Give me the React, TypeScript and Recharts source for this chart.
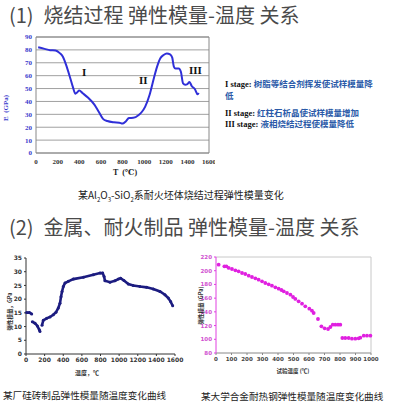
import React from 'react';
import {
  LineChart,
  Line,
  XAxis,
  YAxis,
  CartesianGrid,
  ReferenceLine,
  ScatterChart,
  Scatter,
} from 'recharts';

// ---------- (1) sintering chart ----------
const sinterTemp = [20, 80, 130, 180, 220, 250, 280, 310, 340, 365, 380, 400, 430, 480, 540, 580, 620, 660, 720, 770, 800, 830, 860, 900, 950, 980, 1010, 1050, 1090, 1120, 1150, 1180, 1210, 1240, 1260, 1275, 1290, 1320, 1340, 1360, 1380, 1400, 1420, 1440, 1470, 1495, 1505];
const sinterModulus = [82, 80.8, 79.8, 79.6, 77.5, 74.5, 68, 60, 51.5, 46, 47, 48.5, 46.5, 43, 37.5, 32, 26.5, 24.8, 23.8, 23.5, 22.8, 24.5, 27.2, 27.3, 29.5, 32, 36, 45, 58, 67, 73.5, 76, 77.2, 76.5, 74, 67, 65.5, 65.5, 63, 54, 53, 53.5, 55, 52, 49.5, 45.5, 46.5];
const sinterXTicks = [0, 200, 400, 600, 800, 1000, 1200, 1400, 1600];
const sinterYTicks = [0, 10, 20, 30, 40, 50, 60, 70, 80, 90];
const stageMarks = ['I', 'II', 'III'];
const stageNotes = [
  ['I stage: ', '树脂等结合剂挥发使试样模量降'],
  ['', '低'],
  ['II stage: ', '红柱石析晶使试样模量增加'],
  ['III stage: ', '液相烧结过程使模量降低'],
];

// ---------- (2a) silica brick ----------
const silicaTemp = [7, 36, 61, 64, 68, 97, 122, 143, 150, 160, 172, 186, 222, 258, 293, 322, 347, 365, 376, 387, 401, 419, 455, 508, 616, 723, 795, 823, 838, 848, 902, 956, 991, 1016, 1052, 1099, 1152, 1224, 1296, 1367, 1439, 1492, 1528, 1553, 1575];
const silicaModulus: (number | null)[] = [15.1, 15.1, 14.6, null, 11.8, 11.2, 10.2, 8.8, 8.2, null, 10.5, 12.3, 13.0, 13.5, 14.3, 15.2, 16.8, 18.5, 20.9, 22.8, 24.6, 25.9, 26.5, 27.3, 28.0, 28.9, 29.5, 29.5, 28.3, 26.7, 26.2, 26.7, 27.3, 27.6, 26.8, 25.5, 25.0, 24.6, 24.3, 23.7, 22.8, 21.6, 20.4, 19.1, 17.6];
const silicaXTicks = [0, 200, 400, 600, 800, 1000, 1200, 1400, 1600];
const silicaYTicks = [0, 5, 10, 15, 20, 25, 30, 35];

// ---------- (2b) heat resistant steel ----------
const steelTemp = [17, 54, 67, 82, 103, 125, 146, 168, 189, 211, 232, 254, 275, 297, 318, 340, 361, 383, 404, 422, 437, 458, 480, 497, 512, 533, 555, 576, 602, 619, 630, 658, 680, 701, 723, 738, 753, 770, 787, 802, 815, 834, 856, 877, 899, 920, 931, 953, 974, 996];
const steelModulus = [208.8, 206.4, 206.4, 204, 202.5, 200.6, 199.1, 196.7, 195.2, 192.8, 190.8, 188.9, 187, 184.5, 182.1, 180.1, 178.2, 175.8, 173.8, 171.9, 169.9, 167.5, 165.1, 161.7, 158.8, 155.4, 152, 148.1, 144.7, 141.7, 138.3, 129.6, 118.9, 116, 115, 117.9, 121.3, 121.3, 121.3, 121.3, 101.9, 101.9, 101.9, 100.9, 100.9, 101.4, 102.4, 105.3, 105.3, 105.3];
const steelXTicks = [0, 100, 200, 300, 400, 500, 600, 700, 800, 900, 1000];
const steelYTicks = [80, 100, 120, 140, 160, 180, 200, 220];

const sinterData = sinterTemp.map((t, i) => ({ t, e: sinterModulus[i] }));
const silicaData = silicaTemp.map((t, i) => ({ t, e: silicaModulus[i] }));
const steelData = steelTemp.map((t, i) => ({ t, e: steelModulus[i] }));

const CJK = '"Noto Sans CJK SC", "Noto Sans", sans-serif';
const SERIF = '"Liberation Serif", "DejaVu Serif", serif';

const abs = (left: number, top: number, extra: React.CSSProperties = {}): React.CSSProperties => ({
  position: 'absolute',
  left,
  top,
  whiteSpace: 'pre',
  ...extra,
});

export default function App() {
  return (
    <div
      style={{
        position: 'absolute',
        left: 0,
        top: 0,
        width: 398,
        height: 412,
        background: '#fff',
        overflow: 'hidden',
        fontFamily: CJK,
      }}
    >
      {/* Title 1 */}
      <div style={abs(9, 2, { fontSize: 20, lineHeight: '26px', color: '#4a4a4a' })}>
        {'(1)\u2002烧结过程 弹性模量-温度 关系'}
      </div>

      {/* Chart 1 */}
      <div style={abs(0, 30)}>
        <LineChart width={215} height={150} data={sinterData} margin={{ top: 7, right: 6, bottom: 7, left: 6 }}>
          <CartesianGrid horizontal vertical={false} stroke="#a0a0a0" strokeWidth={1} />
          <XAxis
            dataKey="t"
            type="number"
            domain={[0, 1600]}
            ticks={sinterXTicks}
            height={20}
            tickLine={false}
            tickSize={4}
            axisLine={{ stroke: '#888' }}
            tick={{ fontSize: 7, fontFamily: SERIF, fontWeight: 700, fill: '#333' }}
            interval={0}
          />
          <YAxis
            type="number"
            domain={[0, 90]}
            ticks={sinterYTicks}
            width={30}
            tickLine={false}
            tickSize={2}
            axisLine={{ stroke: '#888' }}
            tick={{ fontSize: 7, fontFamily: SERIF, fontWeight: 700, fill: '#3a3acc' }}
            interval={0}
          />
          <ReferenceLine x={1600} stroke="#888" />
          <ReferenceLine y={90} stroke="#888" />
          <Line
            dataKey="e"
            type="monotone"
            stroke="#2f2fd8"
            strokeWidth={2}
            dot={false}
            isAnimationActive={false}
          />
        </LineChart>
      </div>
      <div
        style={abs(-14, 104, {
          fontSize: 7,
          lineHeight: '8px',
          fontFamily: SERIF,
          fontWeight: 700,
          color: '#3a3acc',
          transform: 'rotate(-90deg)',
          width: 40,
          textAlign: 'center',
        })}
      >
        {'E  (GPa)'}
      </div>
      <div style={abs(105, 168, { fontSize: 8, lineHeight: '10px', fontFamily: SERIF, fontWeight: 700, color: '#222', width: 40, textAlign: 'center' })}>
        {'T  (℃)'}
      </div>
      <div style={abs(82, 66, { fontSize: 11, lineHeight: '12px', fontFamily: SERIF, fontWeight: 700, color: '#111' })}>{stageMarks[0]}</div>
      <div style={abs(139, 74, { fontSize: 11, lineHeight: '12px', fontFamily: SERIF, fontWeight: 700, color: '#111' })}>{stageMarks[1]}</div>
      <div style={abs(189, 64, { fontSize: 11, lineHeight: '12px', fontFamily: SERIF, fontWeight: 700, color: '#111' })}>{stageMarks[2]}</div>

      {/* stage notes */}
      {stageNotes.map((n, i) => (
        <div
          key={i}
          style={abs(225, [78, 90, 107, 118][i], {
            fontSize: 8.5,
            lineHeight: '10px',
            fontWeight: 700,
          })}
        >
          <span style={{ fontFamily: SERIF, color: '#111' }}>{n[0]}</span>
          <span style={{ color: '#2a5aa8' }}>{n[1]}</span>
        </div>
      ))}

      {/* caption 1 */}
      <div style={abs(78, 188, { fontSize: 10, lineHeight: '14px', color: '#222' })}>
        某Al<sub style={{ fontSize: 6 }}>2</sub>O<sub style={{ fontSize: 6 }}>3</sub>-SiO<sub style={{ fontSize: 6 }}>2</sub>系耐火坯体烧结过程弹性模量变化
      </div>

      {/* Title 2 */}
      <div style={abs(9, 214, { fontSize: 20, lineHeight: '26px', color: '#4a4a4a' })}>
        {'(2)\u2002金属、耐火制品 弹性模量-温度 关系'}
      </div>

      {/* Chart 2a */}
      <div style={abs(0, 250)}>
        <LineChart width={190} height={130} data={silicaData} margin={{ top: 8, right: 15, bottom: 8, left: 2 }}>
          <XAxis
            dataKey="t"
            type="number"
            domain={[0, 1600]}
            ticks={silicaXTicks}
            height={18}
            tickSize={2}
            tickLine={{ stroke: '#333' }}
            axisLine={{ stroke: '#333' }}
            tick={{ fontSize: 6, fontWeight: 700, fill: '#333', fontFamily: '"DejaVu Sans", sans-serif' }}
            interval={0}
          />
          <YAxis
            type="number"
            domain={[0, 35]}
            ticks={silicaYTicks}
            width={24}
            tickSize={2}
            tickLine={{ stroke: '#333' }}
            axisLine={{ stroke: '#333' }}
            tick={{ fontSize: 6, fontWeight: 700, fill: '#333', fontFamily: '"DejaVu Sans", sans-serif' }}
            interval={0}
          />
          <Line
            dataKey="e"
            type="linear"
            stroke="#1c1c80"
            strokeWidth={2.6}
            dot={{ r: 1.5, fill: '#1c1c80', stroke: 'none' }}
            connectNulls={false}
            isAnimationActive={false}
          />
        </LineChart>
      </div>
      <div
        style={abs(-12, 308, {
          fontSize: 5.5,
          lineHeight: '7px',
          fontWeight: 700,
          color: '#333',
          transform: 'rotate(-90deg)',
          width: 44,
          textAlign: 'center',
        })}
      >
        {'弹性模量，GPa'}
      </div>
      <div style={abs(67, 369, { fontSize: 6, lineHeight: '8px', fontWeight: 700, color: '#333', width: 40, textAlign: 'center' })}>
        {'温度，℃'}
      </div>
      <div style={abs(3, 389, { fontSize: 9.6, lineHeight: '13px', color: '#222' })}>
        某厂硅砖制品弹性模量随温度变化曲线
      </div>

      {/* Chart 2b */}
      <div style={abs(195, 250)}>
        <ScatterChart width={190} height={130} margin={{ top: 7, right: 14, bottom: 9, left: 3 }}>
          <XAxis
            dataKey="t"
            type="number"
            domain={[0, 1000]}
            ticks={steelXTicks}
            height={18}
            tickSize={2}
            tickLine={{ stroke: '#888' }}
            axisLine={{ stroke: '#888' }}
            tick={{ fontSize: 5.5, fontWeight: 700, fill: '#444', fontFamily: '"DejaVu Sans", sans-serif' }}
            interval={0}
          />
          <YAxis
            dataKey="e"
            type="number"
            domain={[80, 220]}
            ticks={steelYTicks}
            width={18}
            tickSize={2}
            tickLine={{ stroke: '#e040e0' }}
            axisLine={{ stroke: '#e040e0' }}
            tick={{ fontSize: 5.5, fontWeight: 700, fill: '#d050d0', fontFamily: '"DejaVu Sans", sans-serif' }}
            interval={0}
          />
          <ReferenceLine y={220} stroke="#c8c8c8" />
          <ReferenceLine x={1000} stroke="#c8c8c8" />
          <Scatter
            data={steelData}
            fill="#e020e0"
            isAnimationActive={false}
            shape={(p: any) => <circle cx={p.cx} cy={p.cy} r={1.9} fill="#e020e0" />}
          />
        </ScatterChart>
      </div>
      <div
        style={abs(179, 302, {
          fontSize: 5.5,
          lineHeight: '7px',
          fontWeight: 700,
          color: '#333',
          transform: 'rotate(-90deg)',
          width: 44,
          textAlign: 'center',
        })}
      >
        {'弹性模量 (GPa)'}
      </div>
      <div style={abs(268, 367, { fontSize: 5.5, lineHeight: '8px', fontWeight: 700, color: '#333', width: 50, textAlign: 'center' })}>
        {'试验温度 (℃)'}
      </div>
      <div style={abs(201, 390, { fontSize: 9.6, lineHeight: '13px', color: '#222' })}>
        某大学合金耐热钢弹性模量随温度变化曲线
      </div>
    </div>
  );
}
